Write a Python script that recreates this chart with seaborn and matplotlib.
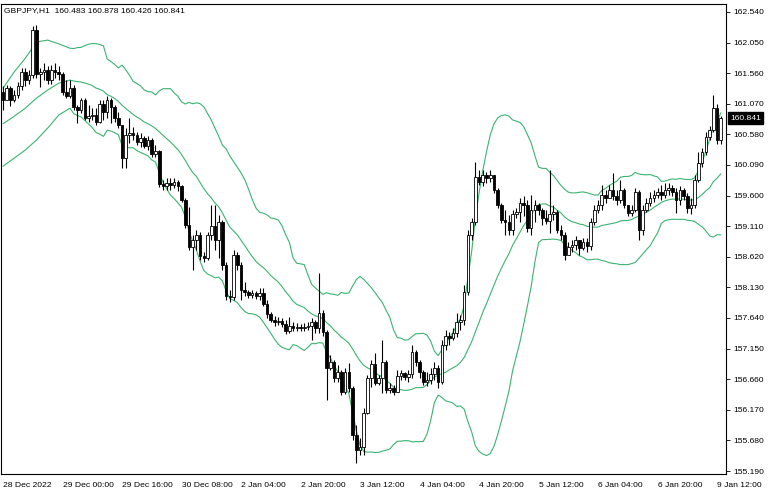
import numpy as np
import pandas as pd
import matplotlib
matplotlib.use("Agg")
import matplotlib.pyplot as plt
import seaborn as sns

# ---------------- data (GBPJPY, H1) ----------------
symbol_title = "GBPJPY,H1  160.483 160.878 160.426 160.841"
first_open = 161.26
closes = [161.13, 161.32, 161.13, 161.21, 161.36, 161.58, 161.45, 161.53, 162.25, 161.55,
          161.58, 161.61, 161.45, 161.61, 161.58, 161.55, 161.26, 161.20, 161.32, 161.02,
          160.97, 161.13, 160.84, 160.87, 160.89, 160.78, 161.07, 160.94, 161.13, 161.02,
          160.84, 160.73, 160.20, 160.57, 160.60, 160.57, 160.46, 160.52, 160.39, 160.49,
          160.27, 160.31, 159.79, 159.75, 159.80, 159.77, 159.82, 159.75, 159.53, 159.13,
          158.78, 158.89, 158.97, 158.63, 158.60, 158.97, 159.11, 158.89, 159.18, 158.49,
          157.99, 157.98, 158.65, 158.49, 158.09, 158.06, 158.01, 158.04, 157.99, 158.04,
          157.86, 157.70, 157.61, 157.58, 157.59, 157.54, 157.43, 157.51, 157.48, 157.50,
          157.48, 157.50, 157.51, 157.58, 157.48, 157.72, 157.42, 156.84, 156.94, 156.68,
          156.77, 156.45, 156.77, 156.52, 155.77, 155.53, 155.57, 156.12, 156.68, 156.90,
          156.60, 156.68, 156.94, 156.49, 156.52, 156.45, 156.71, 156.76, 156.70, 156.74,
          157.10, 156.94, 156.77, 156.62, 156.65, 156.74, 156.84, 156.62, 157.21, 157.35,
          157.32, 157.40, 157.58, 157.61, 158.06, 158.97, 159.18, 159.90, 159.82, 159.93,
          159.88, 159.93, 159.69, 159.45, 159.21, 159.18, 159.05, 159.31, 159.34, 159.48,
          159.45, 159.08, 159.37, 159.45, 159.37, 159.24, 159.19, 159.31, 159.34, 159.05,
          158.97, 158.65, 158.78, 158.81, 158.89, 158.76, 158.86, 158.79, 159.18, 159.37,
          159.45, 159.61, 159.56, 159.69, 159.59, 159.53, 159.69, 159.45, 159.32, 159.37,
          159.66, 159.05, 159.37, 159.48, 159.56, 159.61, 159.66, 159.61, 159.69, 159.72,
          159.66, 159.53, 159.69, 159.59, 159.40, 159.45, 159.85, 160.12, 160.30, 160.54,
          160.65, 161.00, 160.483, 160.841]
highs = [161.36, 161.37, 161.36, 161.29, 161.42, 161.64, 161.64, 161.61, 162.32, 162.33,
         161.64, 161.72, 161.68, 161.69, 161.72, 161.68, 161.58, 161.45, 161.45, 161.37,
         161.05, 161.16, 161.16, 161.05, 161.00, 161.00, 161.13, 161.13, 161.20, 161.16,
         161.05, 160.94, 160.73, 160.68, 160.84, 160.70, 160.62, 160.60, 160.55, 160.55,
         160.52, 160.41, 160.33, 159.85, 159.88, 159.88, 159.88, 159.85, 159.77, 159.56,
         159.42, 158.97, 159.05, 159.02, 158.70, 159.02, 159.45, 159.45, 159.29, 159.21,
         158.54, 158.09, 158.73, 158.70, 158.54, 158.22, 158.09, 158.09, 158.07, 158.12,
         158.12, 157.93, 157.74, 157.67, 157.66, 157.64, 157.61, 157.66, 157.58, 157.56,
         157.54, 157.56, 157.58, 157.64, 157.61, 158.36, 157.77, 157.45, 157.05, 156.97,
         156.89, 156.81, 156.84, 156.92, 156.55, 155.93, 155.72, 156.20, 156.73, 156.97,
         157.08, 156.73, 157.29, 156.97, 156.60, 156.57, 156.81, 156.81, 156.78, 156.81,
         157.21, 157.13, 156.97, 156.81, 156.78, 156.84, 156.94, 156.89, 157.29, 157.45,
         157.42, 157.48, 157.72, 157.69, 158.17, 159.05, 159.24, 160.14, 160.01, 160.01,
         159.98, 160.01, 159.93, 159.72, 159.48, 159.37, 159.29, 159.37, 159.40, 159.56,
         159.59, 159.53, 159.61, 159.53, 159.48, 159.40, 159.37, 160.01, 159.45, 159.37,
         159.13, 159.02, 158.86, 158.89, 158.95, 158.89, 158.92, 158.92, 159.24, 159.45,
         159.53, 159.77, 159.69, 159.77, 159.96, 159.69, 159.85, 159.72, 159.45, 159.45,
         159.72, 159.69, 159.45, 159.56, 159.66, 159.69, 159.72, 159.77, 159.80, 159.80,
         159.77, 159.72, 159.75, 159.72, 159.64, 159.56, 159.93, 160.30, 160.36, 160.62,
         160.71, 161.21, 161.07, 160.878]
lows = [160.97, 161.13, 161.03, 161.10, 161.16, 161.29, 161.36, 161.39, 161.48, 161.48,
        161.34, 161.45, 161.39, 161.39, 161.48, 161.45, 161.21, 161.16, 161.16, 160.97,
        160.76, 160.92, 160.81, 160.78, 160.81, 160.73, 160.76, 160.81, 160.84, 160.76,
        160.78, 160.68, 160.04, 160.04, 160.44, 160.49, 160.41, 160.38, 160.36, 160.33,
        160.22, 160.22, 159.74, 159.69, 159.69, 159.69, 159.72, 159.67, 159.50, 159.08,
        158.73, 158.41, 158.73, 158.57, 158.54, 158.57, 158.89, 158.73, 158.60, 158.41,
        157.93, 157.90, 157.93, 158.41, 157.93, 157.99, 157.96, 157.96, 157.94, 157.93,
        157.83, 157.64, 157.58, 157.51, 157.53, 157.50, 157.38, 157.40, 157.43, 157.43,
        157.43, 157.43, 157.45, 157.29, 157.40, 157.40, 157.35, 156.33, 156.81, 156.62,
        156.62, 156.41, 156.42, 156.46, 155.69, 155.32, 155.45, 155.45, 156.10, 156.53,
        156.57, 156.57, 156.44, 156.44, 156.44, 156.41, 156.45, 156.65, 156.65, 156.62,
        156.68, 156.87, 156.68, 156.57, 156.55, 156.58, 156.65, 156.52, 156.58, 157.13,
        157.21, 157.29, 157.34, 157.45, 157.53, 158.01, 158.89, 159.13, 159.77, 159.75,
        159.80, 159.82, 159.64, 159.40, 159.16, 158.97, 158.97, 158.97, 159.24, 159.18,
        159.27, 159.02, 158.97, 159.18, 159.29, 159.13, 159.15, 159.00, 159.21, 159.00,
        158.89, 158.57, 158.65, 158.70, 158.73, 158.65, 158.73, 158.70, 158.73, 159.13,
        159.32, 159.37, 159.48, 159.56, 159.53, 159.45, 159.48, 159.40, 159.27, 159.27,
        159.34, 158.89, 158.97, 159.34, 159.43, 159.50, 159.56, 159.53, 159.56, 159.61,
        159.59, 159.32, 159.45, 159.53, 159.32, 159.30, 159.40, 159.82, 160.06, 160.25,
        160.49, 160.62, 160.43, 160.426]

# Bollinger band values for the first bars (history left of the window)
early_band_bars = [0, 3, 6, 9, 12, 15, 18]
early_upper = [161.32, 161.58, 161.80, 162.06, 162.09, 162.03, 161.96]
early_middle = [160.75, 160.87, 161.00, 161.16, 161.29, 161.40, 161.45]
early_lower = [160.07, 160.20, 160.33, 160.49, 160.68, 160.89, 161.00]
bb_period = 20
bb_dev = 2.0

price_ticks = [155.190, 155.680, 156.170, 156.660, 157.150, 157.640, 158.130, 158.620,
               159.110, 159.600, 160.090, 160.580, 161.070, 161.560, 162.050, 162.540]
time_tick_bars = [0, 16, 32, 48, 64, 80, 96, 112, 128, 144, 160, 176, 192]
time_tick_labels = ["28 Dec 2022", "29 Dec 00:00", "29 Dec 16:00", "30 Dec 08:00",
                    "2 Jan 04:00", "2 Jan 20:00", "3 Jan 12:00", "4 Jan 04:00",
                    "4 Jan 20:00", "5 Jan 12:00", "6 Jan 04:00", "6 Jan 20:00",
                    "9 Jan 12:00"]
last_price = 160.841

# ---------------- figure ----------------
sns.set_style("white")
plt.rcParams["font.family"] = ["Liberation Sans", "DejaVu Sans"]
FS = 6.1

n = len(closes)
opens = [first_open] + closes[:-1]
df = pd.DataFrame({"bar": np.arange(n), "open": opens, "high": highs,
                   "low": lows, "close": closes})

roll = df["close"].rolling(bb_period)
mid = roll.mean()
sd = roll.std(ddof=0)
bands = pd.DataFrame({
    "bar": early_band_bars + list(range(bb_period - 1, n)),
    "upper": early_upper + list((mid + bb_dev * sd).iloc[bb_period - 1:]),
    "middle": early_middle + list(mid.iloc[bb_period - 1:]),
    "lower": early_lower + list((mid - bb_dev * sd).iloc[bb_period - 1:]),
})

fig = plt.figure(figsize=(7.68, 4.94), dpi=100)
ax = fig.add_axes([1 / 768, 20 / 494, 725 / 768, 470 / 494])

green = "#3CB371"
for col in ["upper", "middle", "lower"]:
    sns.lineplot(data=bands, x="bar", y=col, ax=ax, color=green, linewidth=0.8,
                 zorder=1)

up = df["close"] >= df["open"]
ax.vlines(df["bar"], df["low"], df["high"], color="black", linewidth=0.8, zorder=2)
body_lo = np.minimum(df["open"], df["close"])
body_h = np.maximum(np.abs(df["close"] - df["open"]), 0.006)
ax.bar(df["bar"][up], body_h[up], bottom=body_lo[up], width=0.7, color="white",
       edgecolor="black", linewidth=0.6, zorder=3)
ax.bar(df["bar"][~up], body_h[~up], bottom=body_lo[~up], width=0.7, color="black",
       edgecolor="black", linewidth=0.6, zorder=3)

ax.set_xlim(-0.54, 194.4)
ax.set_ylim(155.142, 162.668)
ax.set_xlabel("")
ax.set_ylabel("")

ax.yaxis.tick_right()
ax.set_yticks(price_ticks)
ax.set_yticklabels([f"{v:.3f}" for v in price_ticks])
ax.tick_params(axis="y", labelsize=FS, length=3, width=0.6, pad=2, direction="out",
               right=True, left=False, colors="black")
ax.set_xticks(time_tick_bars)
ax.set_xticklabels(time_tick_labels, ha="left")
ax.tick_params(axis="x", labelsize=FS, length=4, width=0.6, pad=2, direction="out",
               colors="black")
for s in ax.spines.values():
    s.set_color("black")
    s.set_linewidth(0.8)

ax.text(0.004, 0.993, symbol_title, transform=ax.transAxes, ha="left", va="top",
        fontsize=FS, color="black")

ax.annotate(f"{last_price:.3f}", xy=(1, last_price), xycoords=ax.get_yaxis_transform(),
            xytext=(3, 0), textcoords="offset points", ha="left", va="center",
            color="white", fontsize=FS,
            bbox=dict(boxstyle="square,pad=0.25", fc="black", ec="black"))

fig.savefig("out.png", dpi=100)
